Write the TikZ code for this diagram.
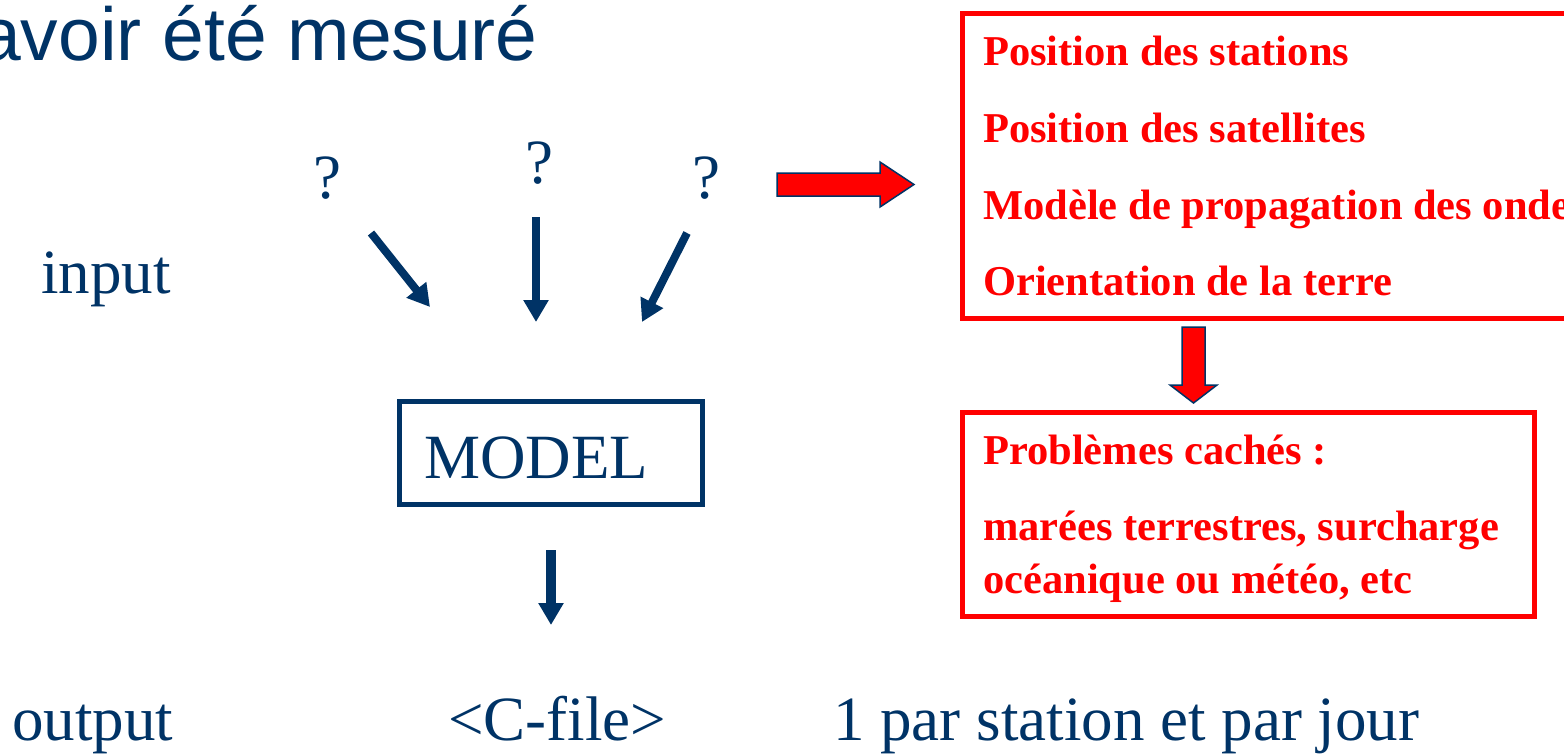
\documentclass[tikz,border=0pt]{standalone}
\usepackage{fontspec}
\setmainfont{Liberation Serif}
\newfontfamily\titlefont{Liberation Sans}
\usetikzlibrary{arrows.meta}
\definecolor{navy}{HTML}{003366}
\definecolor{rd}{HTML}{FF0000}
\begin{document}
\begin{tikzpicture}[x=1pt,y=-1pt,
  txt/.style={anchor=base west, inner sep=0pt, text=navy, font=\fontsize{63}{63}\selectfont},
  qmark/.style={anchor=base, inner sep=0pt, text=navy, font=\fontsize{63}{63}\selectfont},
  redtxt/.style={anchor=base west, inner sep=0pt, text=rd, font=\bfseries\fontsize{42.5}{42.5}\selectfont},
  bluearrow/.style={draw=navy, line width=8pt, -{Triangle[length=22pt,width=24pt]}},
  redbox/.style={draw=rd, line width=5pt, inner sep=0pt},
  modelbox/.style={draw=navy, line width=5pt, inner sep=0pt},
  blockarrow/.style={fill=rd, draw=navy, line width=1.5pt, line join=miter}]
\useasboundingbox (0,0) rectangle (1564,755);
\clip (0,0) rectangle (1564,755);

% title
\node[anchor=base east, inner sep=0pt, text=navy, font=\titlefont\fontsize{75}{75}\selectfont] (title) at (538,60) {avoir été mesuré};

% left column
\node[txt] (input) at (41,293) {input};
\node[txt] (output) at (12,740) {output};

% question marks
\node[qmark] (q1) at (327,198) {?};
\node[qmark] (q2) at (539,183) {?};
\node[qmark] (q3) at (706,198) {?};

% model box
\node[modelbox, minimum width=303pt, minimum height=103pt] (model) at (551,453) {};
\node[txt] (modeltxt) at (424,478) {MODEL};

% outputs
\node[txt] (cfile) at (448,740) {<C-file>};
\node[txt] (perday) at (833,740) {1 par station et par jour};

% blue arrows
\coordinate (a1s) at (371,233); \coordinate (a1e) at (430,307);
\coordinate (a2s) at (536,217); \coordinate (a2e) at (536,322);
\coordinate (a3s) at (687,233); \coordinate (a3e) at (642,322);
\coordinate (a4s) at (551,550); \coordinate (a4e) at (551,625);
\draw[bluearrow] (a1s) -- (a1e);
\draw[bluearrow] (a2s) -- (a2e);
\draw[bluearrow] (a3s) -- (a3e);
\draw[bluearrow, line width=10pt] (a4s) -- (a4e);

% red boxes
\node[redbox, minimum width=700pt, minimum height=305.5pt, anchor=north west] (box1) at (959.5,10.5) {};
\node[redbox, minimum width=572pt, minimum height=204pt, anchor=north west] (box2) at (959.5,409.5) {};

\node[redtxt] (l1) at (983,65) {Position des stations};
\node[redtxt] (l2) at (983,142) {Position des satellites};
\node[redtxt] (l3) at (983,219) {Modèle de propagation des ondes};
\node[redtxt] (l4) at (983,295) {Orientation de la terre};

\node[redtxt] (p1) at (983,464) {Problèmes cachés :};
\node[redtxt] (p2) at (983,540) {marées terrestres, surcharge};
\node[redtxt] (p3) at (983,593) {océanique ou météo, etc};

% red block arrows
\coordinate (ra) at (777,184.5);
\draw[blockarrow] (ra) ++(0,-11.5) -- ++(103,0) -- ++(0,-11) -- ++(34,22.5) -- ++(-34,22.5) -- ++(0,-11) -- ++(-103,0) -- cycle;
\coordinate (da) at (1193.5,327);
\draw[blockarrow] (da) ++(-11.5,0) -- ++(23,0) -- ++(0,58) -- ++(12,0) -- ++(-23.5,18) -- ++(-23.5,-18) -- ++(12,0) -- cycle;
\end{tikzpicture}
\end{document}
